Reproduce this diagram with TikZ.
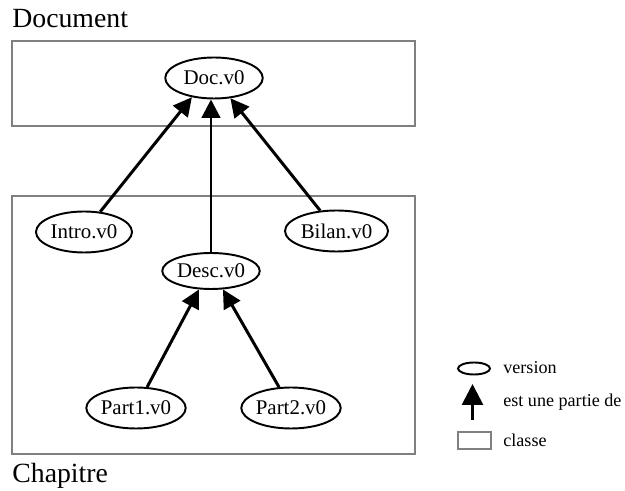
\documentclass[tikz,border=0pt]{standalone}
\usepackage{fontspec}
\setmainfont{Liberation Serif}
\usetikzlibrary{shapes.geometric,arrows.meta}
\begin{document}
\begin{tikzpicture}[every node/.style={font=\fontsize{11.9}{14}\selectfont},
  version/.style={draw,ellipse,line width=1.1pt,inner sep=0pt,minimum width=1.95cm,minimum height=0.82cm},
  classe/.style={draw=black!50,line width=1.3pt},
  partof/.style={line width=1.7pt,-{Triangle[length=0.37cm,width=0.37cm]}},
  title/.style={font=\fontsize{15.8}{18}\selectfont,anchor=base west,inner sep=0pt},
  legend/.style={font=\fontsize{10.3}{12}\selectfont,anchor=west,inner sep=0pt}]
\useasboundingbox (0,0) rectangle (12.5,9.82);
% classes
\draw[classe] (0.24,7.30) rectangle (8.30,9.00);
\draw[classe] (0.24,0.74) rectangle (8.30,5.90);
\node[title] (tdoc) at (0.24,9.26) {Document};
\node[title] (tchap) at (0.24,0.17) {Chapitre};
% versions
\node[version] (doc) at (4.28,8.26) {Doc.v0};
\node[version,minimum width=1.92cm] (intro) at (1.68,5.18) {Intro.v0};
\node[version,minimum width=2.06cm] (bilan) at (6.73,5.20) {Bilan.v0};
\node[version,minimum height=0.72cm] (desc) at (4.22,4.40) {Desc.v0};
\node[version] (part1) at (2.72,1.66) {Part1.v0};
\node[version] (part2) at (5.82,1.66) {Part2.v0};
% est une partie de
\draw[partof] (intro) -- (doc.221);
\draw[partof] (desc) -- (desc |- doc.south);
\draw[partof] (bilan) -- (doc.309);
\draw[partof] (part1) -- (desc.237);
\draw[partof] (part2) -- (desc.303);
% legende
\node[draw,ellipse,line width=1.1pt,inner sep=0pt,minimum width=0.64cm,minimum height=0.24cm] (lver) at (9.48,2.45) {};
\coordinate (lbot) at (9.45,1.42);
\coordinate (ltop) at (9.45,2.14);
\draw[line width=1.6pt,-{Triangle[length=0.42cm,width=0.42cm]}] (lbot) -- (ltop);
\draw[classe] (9.16,0.84) rectangle (9.82,1.18);
\node[legend] (tver) at (10.06,2.46) {version};
\node[legend] (tpart) at (10.06,1.78) {est une partie de};
\node[legend] (tcla) at (10.06,1.02) {classe};
\end{tikzpicture}
\end{document}
